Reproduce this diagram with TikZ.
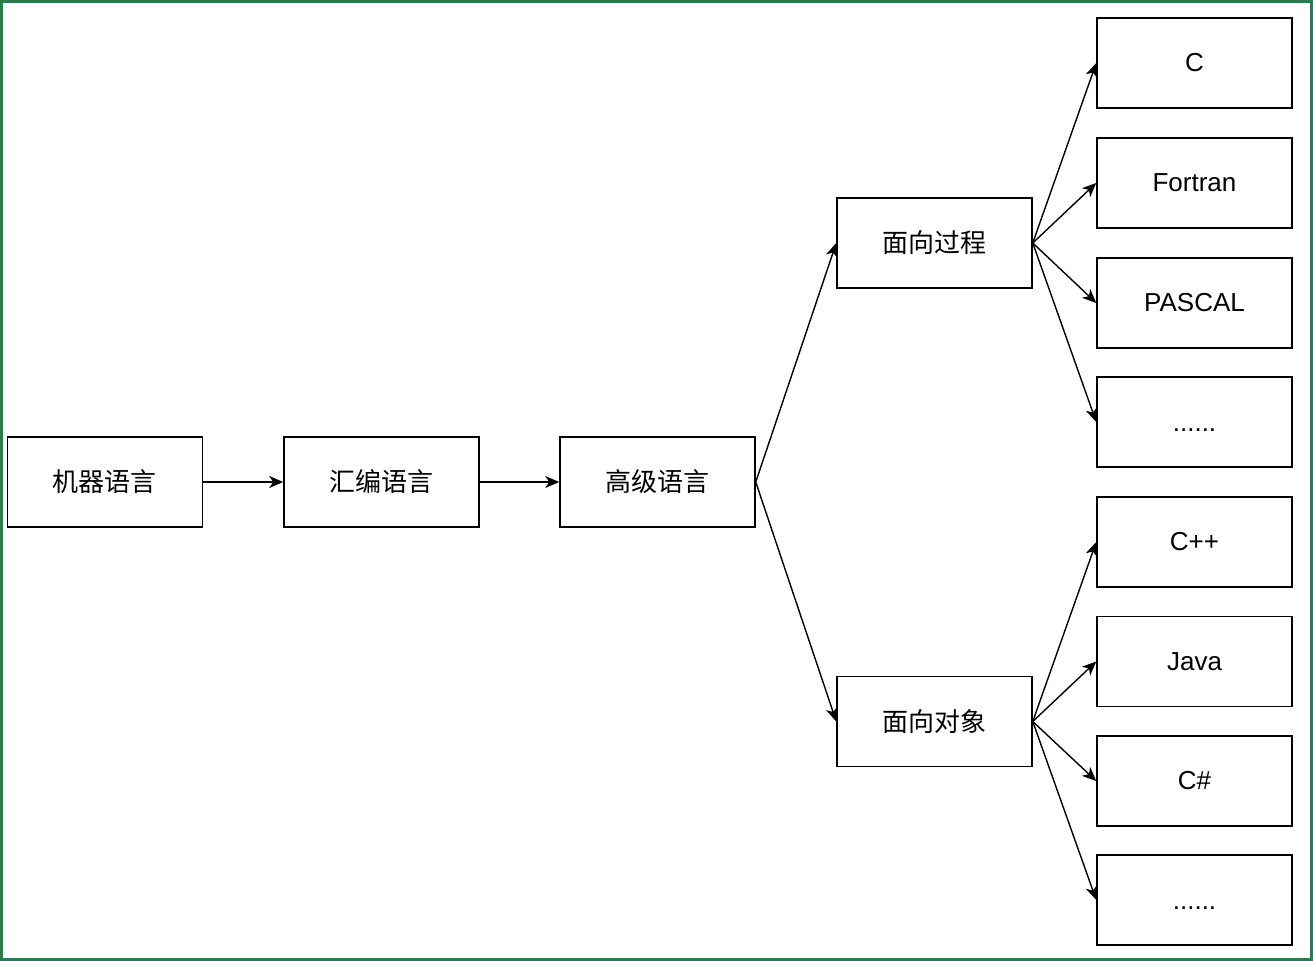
\documentclass[tikz,border=0pt]{standalone}
\usepackage{fontspec}
\setmainfont{Liberation Sans}
\newfontfamily\cjk{Noto Sans CJK SC}
\usetikzlibrary{arrows.meta}
\definecolor{frameGreen}{RGB}{46,122,78}

\begin{document}
\begin{tikzpicture}[x=0.5pt,y=-0.5pt,font=\fontsize{13pt}{15pt}\selectfont,
  langbox/.style={draw,line width=0.75pt,minimum width=97.5pt,minimum height=45pt,inner sep=0pt},
  flow/.style={line width=0.7pt,-{Stealth[length=7pt,width=6pt,inset=2pt]}}]
  \useasboundingbox (0,0) rectangle (1313,961);
  \draw[frameGreen,line width=1.3pt] (1.5,1.5) rectangle (1311.5,959.5);
  % main chain
  \node[langbox] (jiqi) at (105,482) {\cjk 机器语言};
  \node[langbox] (huibian) at (381.5,482) {\cjk 汇编语言};
  \node[langbox] (gaoji) at (657.5,482) {\cjk 高级语言};
  \node[langbox] (guocheng) at (934.5,243) {\cjk 面向过程};
  \node[langbox] (duixiang) at (934.5,721.5) {\cjk 面向对象};
  % languages
  \node[langbox] (c) at (1194.5,63) {C};
  \node[langbox] (fortran) at (1194.5,183) {Fortran};
  \node[langbox] (pascal) at (1194.5,303) {PASCAL};
  \node[langbox] (more1) at (1194.5,422) {\smash{\raisebox{-5pt}{......}}};
  \node[langbox] (cpp) at (1194.5,542) {C++};
  \node[langbox] (java) at (1194.5,661.5) {Java};
  \node[langbox] (csharp) at (1194.5,781) {C\#};
  \node[langbox] (more2) at (1194.5,900) {\smash{\raisebox{-5pt}{......}}};
  \draw[flow] (jiqi) -- (huibian);
  \draw[flow] (huibian) -- (gaoji);
  \draw[flow] (gaoji.east) -- (guocheng.west);
  \draw[flow] (gaoji.east) -- (duixiang.west);
  \foreach \l in {c,fortran,pascal,more1}{\draw[flow] (guocheng.east) -- (\l.west);}
  \foreach \l in {cpp,java,csharp,more2}{\draw[flow] (duixiang.east) -- (\l.west);}
\end{tikzpicture}
\end{document}
